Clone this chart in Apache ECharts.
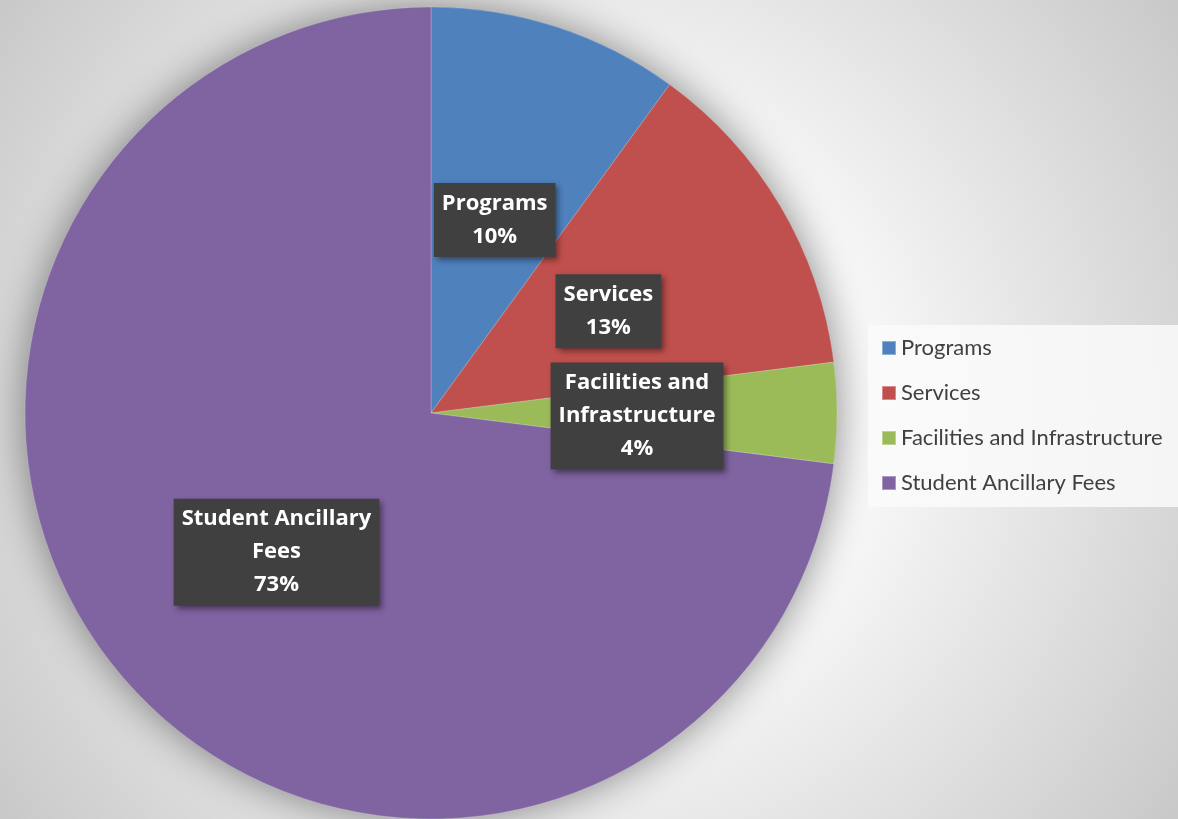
<!DOCTYPE html>
<html>
<head>
<meta charset="utf-8">
<script src="https://cdn.jsdelivr.net/npm/echarts@6/dist/echarts.min.js"></script>
<style>
  html, body { margin: 0; padding: 0; }
  #main { width: 1178px; height: 819px; }
</style>
</head>
<body>
<div id="main"></div>
<script>
  var categories = ['Programs', 'Services', 'Facilities and Infrastructure', 'Student Ancillary Fees'];
  var labelNames = ['Programs', 'Services', 'Facilities and\nInfrastructure', 'Student Ancillary\nFees'];
  var values = [10, 13, 4, 73];
  var colors = ['#4f81bd', '#c0504d', '#9bbb59', '#8064a2'];

  var chart = echarts.init(document.getElementById('main'));

  var pieData = [];
  for (var i = 0; i < categories.length; i++) {
    pieData.push({ name: categories[i], value: values[i], itemStyle: { color: colors[i] } });
  }

  var option = {
    backgroundColor: {
      type: 'radial', x: 0.5, y: 0.5, r: 0.88,
      colorStops: [
        { offset: 0, color: '#ffffff' },
        { offset: 0.4, color: '#f7f7f7' },
        { offset: 1, color: '#c8c8c8' }
      ]
    },
    legend: {
      data: categories,
      orient: 'vertical',
      left: 868,
      top: 325,
      padding: [12, 30, 13, 13],
      backgroundColor: 'rgba(250,250,250,0.85)',
      itemWidth: 14,
      itemHeight: 14,
      itemGap: 23,
      icon: 'rect',
      textStyle: { fontFamily: 'Lato', fontSize: 22, lineHeight: 20, color: '#404040' }
    },
    series: [
      {
        // shadow underneath the whole pie
        type: 'pie',
        silent: true,
        center: [431, 413],
        radius: 406,
        label: { show: false },
        labelLine: { show: false },
        itemStyle: { color: '#999', shadowBlur: 40, shadowColor: 'rgba(0,0,0,0.45)' },
        data: [{ name: 'shadow', value: 1 }],
        animation: false
      },
      {
        type: 'pie',
        center: [431, 413],
        radius: 406,
        startAngle: 90,
        clockwise: true,
        animation: false,
        itemStyle: { borderColor: 'rgba(255,255,255,0.35)', borderWidth: 0.6 },
        labelLine: { show: false },
        label: {
          show: true,
          position: 'inside',
          offset: [0, 3],
          formatter: function (p) {
            return labelNames[p.dataIndex] + '\n' + p.percent + '%';
          },
          fontFamily: 'Open Sans',
          fontWeight: 'bold',
          fontSize: 22,
          lineHeight: 33,
          color: '#ffffff',
          align: 'center',
          backgroundColor: '#404040',
          padding: [4, 8, 4, 8],
          shadowBlur: 6,
          shadowOffsetX: 3,
          shadowOffsetY: 3,
          shadowColor: 'rgba(0,0,0,0.45)'
        },
        data: pieData
      }
    ]
  };

  chart.setOption(option);
</script>
</body>
</html>
